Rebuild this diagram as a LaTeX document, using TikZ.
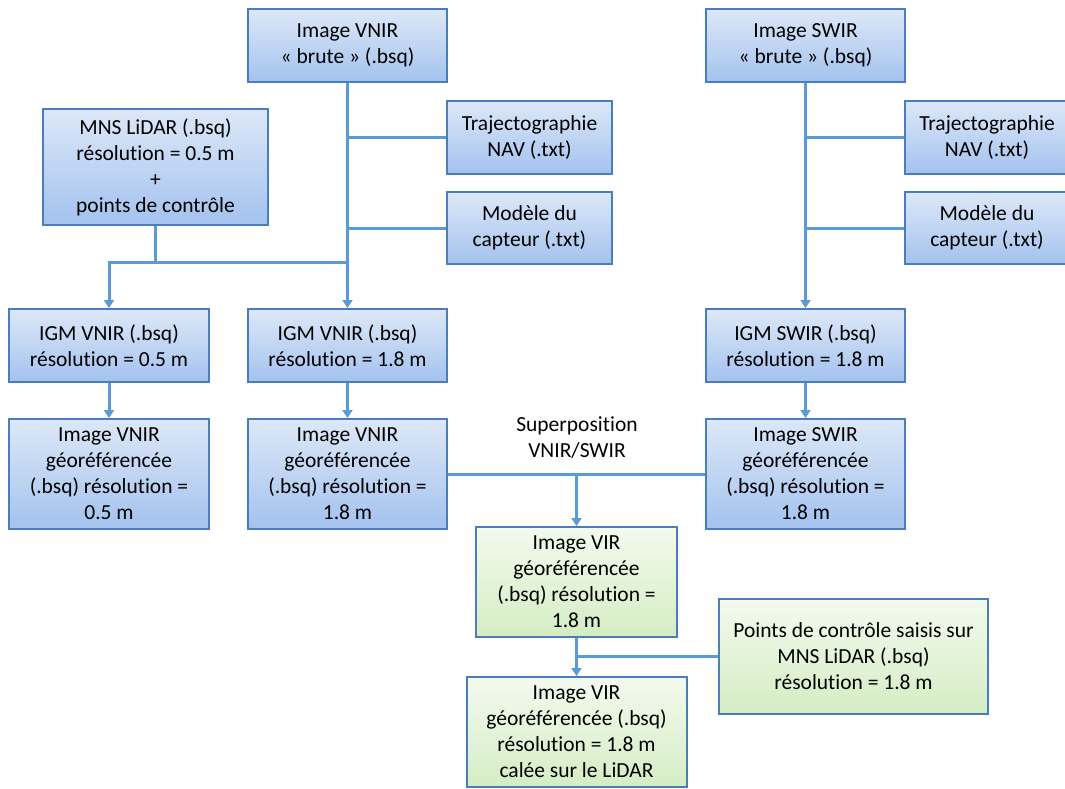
\documentclass[tikz,border=0pt]{standalone}
\usepackage{fontspec}
\setmainfont{Carlito}[Ligatures=NoCommon]
\usetikzlibrary{arrows.meta}
\definecolor{linec}{HTML}{5B9BD5}
\definecolor{borderc}{HTML}{4A7EBB}
\definecolor{btop}{HTML}{DDE8F8}
\definecolor{bbot}{HTML}{A3C2EE}
\definecolor{gtop}{HTML}{F3FAEE}
\definecolor{gbot}{HTML}{D4EDC4}
\tikzset{
  boxbase/.style={draw=borderc, line width=2pt, inner sep=0pt, align=center,
    font=\fontsize{21.5}{26}\selectfont, text=black},
  bluebox/.style={boxbase, top color=btop, bottom color=bbot},
  greenbox/.style={boxbase, top color=gtop, bottom color=gbot},
  conn/.style={draw=linec, line width=3pt},
  arr/.style={conn, -{Triangle[width=10pt,length=8pt]}},
  plainlabel/.style={inner sep=0pt, align=center, font=\fontsize{21.5}{26}\selectfont}
}
\begin{document}
\begin{tikzpicture}[x=1pt,y=-1pt]
\useasboundingbox (0,0) rectangle (1065,788);
\clip (0,0) rectangle (1065,788);
\fill[white] (0,0) rectangle (1065,788);
% boxes
\node[bluebox, minimum width=199pt, minimum height=73pt] (vb) at (347.5,45.5) {Image VNIR\\« brute » (.bsq)};
\node[bluebox, minimum width=199pt, minimum height=73pt] (sb) at (805.5,45.5) {Image SWIR\\« brute » (.bsq)};
\node[bluebox, minimum width=225pt, minimum height=116pt] (mns) at (155.5,167) {MNS LiDAR (.bsq)\\résolution = 0.5 m\\+\\points de contrôle};
\node[bluebox, minimum width=165pt, minimum height=73pt] (t1) at (529.5,137.5) {Trajectographie\\NAV (.txt)};
\node[bluebox, minimum width=165pt, minimum height=72pt] (m1) at (529.5,228) {Modèle du\\capteur (.txt)};
\node[bluebox, minimum width=165pt, minimum height=73pt] (t2) at (987,137.5) {Trajectographie\\NAV (.txt)};
\node[bluebox, minimum width=165pt, minimum height=72pt] (m2) at (987,228) {Modèle du\\capteur (.txt)};
\node[bluebox, minimum width=200pt, minimum height=73pt] (i1) at (109,345.5) {IGM VNIR (.bsq)\\résolution = 0.5 m};
\node[bluebox, minimum width=199pt, minimum height=73pt] (i2) at (347.5,345.5) {IGM VNIR (.bsq)\\résolution = 1.8 m};
\node[bluebox, minimum width=199pt, minimum height=73pt] (i3) at (805.5,345.5) {IGM SWIR (.bsq)\\résolution = 1.8 m};
\node[bluebox, minimum width=200pt, minimum height=110pt] (g1) at (109,474) {Image VNIR\\géoréférencée\\(.bsq) résolution =\\0.5 m};
\node[bluebox, minimum width=199pt, minimum height=110pt] (g2) at (347.5,474) {Image VNIR\\géoréférencée\\(.bsq) résolution =\\1.8 m};
\node[bluebox, minimum width=199pt, minimum height=110pt] (g3) at (805.5,474) {Image SWIR\\géoréférencée\\(.bsq) résolution =\\1.8 m};
\node[plainlabel] (sp) at (577,438) {Superposition\\VNIR/SWIR};
\node[greenbox, minimum width=201pt, minimum height=110pt] (v1) at (576.5,582) {Image VIR\\géoréférencée\\(.bsq) résolution =\\1.8 m};
\node[greenbox, minimum width=269pt, minimum height=115pt] (pc) at (853.5,656.5) {Points de contrôle saisis sur\\MNS LiDAR (.bsq)\\résolution = 1.8 m};
\node[greenbox, minimum width=220pt, minimum height=110pt] (v2) at (576.5,732) {Image VIR\\géoréférencée (.bsq)\\résolution = 1.8 m\\calée sur le LiDAR};
% connectors left branch
\draw[arr] (vb.south) -- (i2.north);
\draw[conn] (t1.west) -- (t1.west -| vb.south);
\draw[conn] (m1.west) -- (m1.west -| vb.south);
\draw[conn] (mns.south) -- (mns.south |- 0,262) coordinate (j1) -- (vb.south |- 0,262);
\draw[arr] (j1) -| (i1.north);
\draw[arr] (i1.south) -- (g1.north);
\draw[arr] (i2.south) -- (g2.north);
% right branch
\draw[arr] (sb.south) -- (i3.north);
\draw[conn] (t2.west) -- (t2.west -| sb.south);
\draw[conn] (m2.west) -- (m2.west -| sb.south);
\draw[arr] (i3.south) -- (g3.north);
% superposition
\draw[conn] (g2.east) -- (g3.west);
\coordinate (sj) at (v1.north |- g2.east);
\draw[arr] (sj) -- (v1.north);
\draw[arr] (v1.south) -- (v2.north);
\draw[conn] (pc.west) -- (pc.west -| v1.south);
\end{tikzpicture}
\end{document}
